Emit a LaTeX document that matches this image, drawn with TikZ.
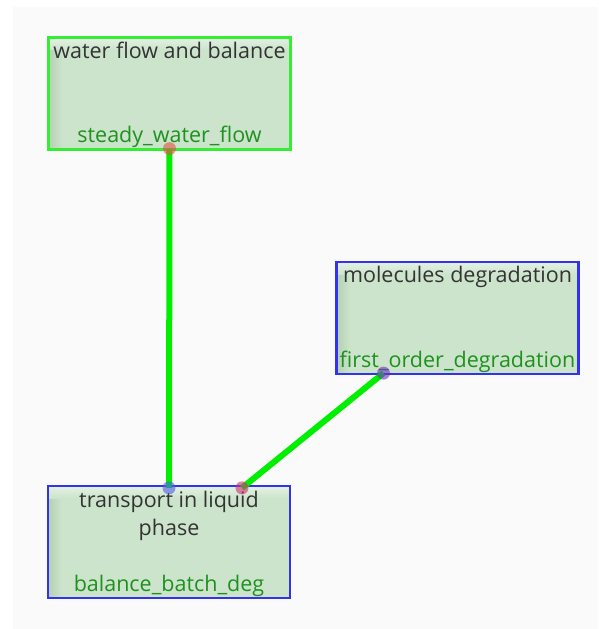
\documentclass[tikz,border=0pt]{standalone}
\usepackage{fontspec}
\setmainfont{Open Sans}
\usetikzlibrary{calc}
\definecolor{bgc}{RGB}{250,250,251}
\definecolor{boxl}{RGB}{180,208,180}
\definecolor{boxm}{RGB}{204,228,204}
\definecolor{boxr}{RGB}{210,232,210}
\definecolor{gborder}{RGB}{51,238,51}
\definecolor{bborder}{RGB}{51,51,238}
\definecolor{titlec}{RGB}{51,51,51}
\definecolor{labc}{RGB}{30,145,30}
\definecolor{linkc}{RGB}{0,238,0}
\definecolor{dotred}{RGB}{230,80,70}
\definecolor{dotblue}{RGB}{80,90,230}
\definecolor{dotpurple}{RGB}{110,50,200}
\definecolor{dotmag}{RGB}{200,50,110}
\tikzset{
  modbox/.style={rectangle, minimum width=242pt, minimum height=112pt, inner sep=0pt,
    line width=2.2pt,
    path picture={
      \fill[boxm] (path picture bounding box.south west) rectangle (path picture bounding box.north east);
      \fill[left color=boxl, right color=boxm] (path picture bounding box.south west) rectangle ([xshift=14pt]path picture bounding box.north west);
      \fill[top color=boxr!60!white, bottom color=boxm] (path picture bounding box.north west) rectangle ([yshift=-12pt]path picture bounding box.north east);
    }},
  gbox/.style={modbox, draw=gborder},
  bbox/.style={modbox, draw=bborder},
  titletxt/.style={font=\fontsize{21.5}{28}\selectfont, text=titlec, align=center, inner sep=0pt},
  labtxt/.style={font=\fontsize{21.5}{26}\selectfont, text=labc, inner sep=0pt},
  link/.style={draw=linkc, line width=6pt},
  enddot/.style={circle, minimum size=13pt, inner sep=0pt, opacity=0.6}
}
\begin{document}
\begin{tikzpicture}[x=1pt,y=-1pt]
\fill[white] (0,0) rectangle (598,629);
\fill[bgc] (13,7) rectangle (598,629);
\useasboundingbox (0,0) rectangle (598,629);

\node[gbox] (A) at (169.5,93.5) {};
\node[bbox] (B) at (457.5,318) {};
\node[bbox] (C) at (169,542) {};

\node[titletxt, anchor=base] (At) at ([yshift=-22pt]A.north) {water flow and balance};
\node[labtxt, anchor=base] (Al) at ([yshift=8pt]A.south) {steady\_water\_flow};
\node[titletxt, anchor=base] (Bt) at ([yshift=-22pt]B.north) {molecules degradation};
\node[labtxt, anchor=base] (Bl) at ([yshift=8pt]B.south) {first\_order\_degradation};
\node[titletxt, anchor=north] (Ct) at ([yshift=-6pt]C.north) {transport in liquid\\phase};
\node[labtxt, anchor=base] (Cl) at ([yshift=8pt]C.south) {balance\_batch\_deg};

\coordinate (a1) at ([yshift=2pt]A.south);
\coordinate (c1) at ([yshift=-3pt]C.north);
\coordinate (b1) at ([xshift=-74pt,yshift=2pt]B.south);
\coordinate (c2) at ([xshift=73pt,yshift=-3pt]C.north);

\draw[link] (a1) -- (c1);
\draw[link] (b1) -- (c2);

\node[enddot, fill=dotred] (d1) at (a1) {};
\node[enddot, fill=dotblue] (d2) at (c1) {};
\node[enddot, fill=dotpurple] (d3) at (b1) {};
\node[enddot, fill=dotmag] (d4) at (c2) {};
\end{tikzpicture}
\end{document}
